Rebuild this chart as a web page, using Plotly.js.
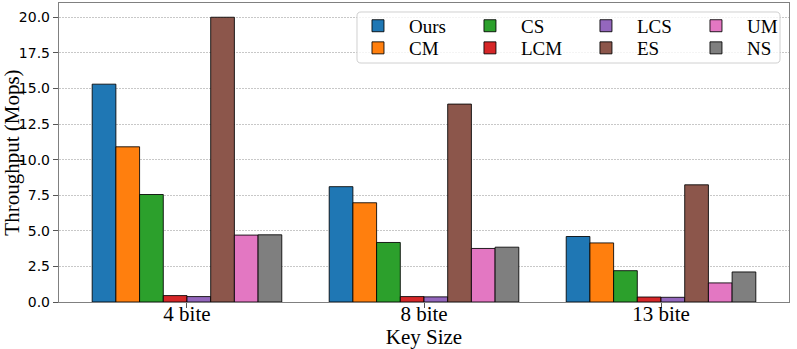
<!DOCTYPE html>
<html>
<head>
<meta charset="utf-8">
<script src="https://cdn.plot.ly/plotly-3.0.1.min.js"></script>
<style>html,body{margin:0;padding:0;background:#fff;}#chart{width:797px;height:349px;}</style>
</head>
<body>
<div id="chart"></div>
<script>
const categories = ["4 bite", "8 bite", "13 bite"];
const seriesNames = ["Ours", "CM", "CS", "LCM", "LCS", "ES", "UM", "NS"];
const ours = [15.3, 8.1, 4.6];
const cm = [10.9, 6.97, 4.15];
const cs = [7.55, 4.18, 2.2];
const lcm = [0.45, 0.38, 0.35];
const lcs = [0.38, 0.36, 0.33];
const es = [20.0, 13.9, 8.23];
const um = [4.7, 3.76, 1.34];
const ns = [4.72, 3.85, 2.11];
const seriesValues = [ours, cm, cs, lcm, lcs, es, um, ns];
const colors = ["#1f77b4", "#ff7f0e", "#2ca02c", "#d62728", "#9467bd", "#8c564b", "#e377c2", "#7f7f7f"];

const barW = 0.1;
const xIdx = categories.map((c, i) => i);
// legend: 4 columns x 2 rows (column-major), one legend per entry
const legendColX = [0.3945, 0.5479, 0.7068, 0.8575];
const legendRowY = [0.9235, 0.8495];
const legendFont = {family: "Liberation Serif, Times New Roman, serif", size: 19, color: "#000"};

const traces = seriesNames.map((name, i) => ({
  type: "bar",
  name: name,
  x: xIdx,
  y: seriesValues[i],
  width: barW,
  offset: (i - 4) * barW,
  legend: i === 0 ? "legend" : "legend" + (i + 1),
  marker: {color: colors[i], line: {color: "rgba(0,0,0,0.85)", width: 1}},
  hoverinfo: "name+y"
}));

const layout = {
  width: 797, height: 349,
  margin: {l: 59, r: 8, t: 3, b: 47, pad: 0},
  paper_bgcolor: "#fff", plot_bgcolor: "#fff",
  barmode: "overlay",
  showlegend: true,
  xaxis: {
    range: [-0.54, 2.54],
    tickmode: "array", tickvals: xIdx, ticktext: categories,
    ticks: "outside", ticklen: 5, tickcolor: "#555", tickwidth: 1,
    ticklabelstandoff: -12,
    tickfont: {family: "Liberation Serif, Times New Roman, serif", size: 21, color: "#000"},
    showline: true, linecolor: "#808080", linewidth: 1.2, mirror: true,
    showgrid: false, zeroline: false,
    title: {text: "Key Size", font: {family: "Liberation Serif, Times New Roman, serif", size: 21, color: "#000"}, standoff: 4}
  },
  yaxis: {
    range: [0, 21],
    tickmode: "array", tickvals: [0, 2.5, 5, 7.5, 10, 12.5, 15, 17.5, 20],
    ticktext: ["0.0", "2.5", "5.0", "7.5", "10.0", "12.5", "15.0", "17.5", "20.0"],
    ticks: "outside", ticklen: 5, tickcolor: "#555", tickwidth: 1,
    tickfont: {family: "DejaVu Sans, sans-serif", size: 14, color: "#000"},
    showline: true, linecolor: "#808080", linewidth: 1.2, mirror: true,
    showgrid: true, gridcolor: "#c8c8c8", griddash: "1.5px,1.5px", gridwidth: 1,
    zeroline: false,
    title: {text: "Throughput (Mops)", font: {family: "Liberation Serif, Times New Roman, serif", size: 21, color: "#000"}, standoff: 0}
  },
  shapes: [{
    type: "path", xref: "paper", yref: "paper", layer: "above",
    path: "M 0.4137,0.9699 L 0.9822,0.9699 Q 0.9877,0.9699 0.9877,0.9565 L 0.9877,0.8127 Q 0.9877,0.7993 0.9822,0.7993 L 0.4137,0.7993 Q 0.4082,0.7993 0.4082,0.8127 L 0.4082,0.9565 Q 0.4082,0.9699 0.4137,0.9699 Z",
    fillcolor: "rgba(255,255,255,0.8)",
    line: {color: "#d0d0d0", width: 1}
  }]
};

seriesNames.forEach((name, i) => {
  const key = i === 0 ? "legend" : "legend" + (i + 1);
  layout[key] = {
    x: legendColX[Math.floor(i / 2)], xanchor: "left",
    y: legendRowY[i % 2], yanchor: "middle",
    orientation: "v",
    bgcolor: "rgba(0,0,0,0)", borderwidth: 0,
    font: legendFont,
    itemwidth: 52
  };
});

Plotly.newPlot("chart", traces, layout, {displayModeBar: false, staticPlot: true});
</script>
</body>
</html>
